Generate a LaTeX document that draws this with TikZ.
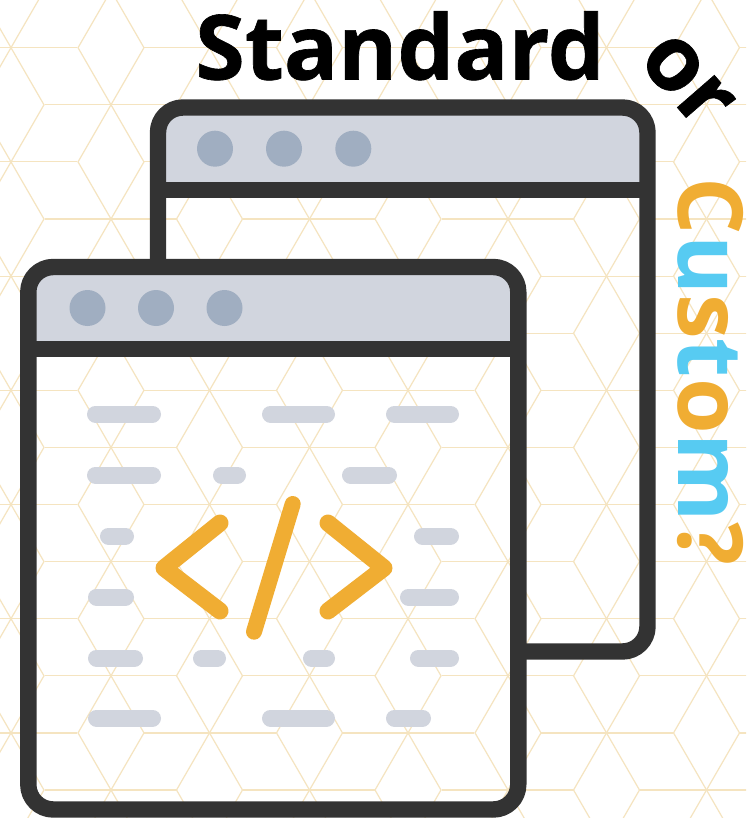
\documentclass[tikz,border=0pt]{standalone}
\usepackage{fontspec}
\setmainfont{Open Sans}
\newfontfamily\heavyfont{Open Sans}[UprightFont=* Bold,FakeBold=0.7]
\newfontfamily\customfont{Open Sans}[UprightFont=* Bold]
\definecolor{hexline}{HTML}{F5E4C0}
\definecolor{framedark}{HTML}{333333}
\definecolor{bargray}{HTML}{D1D5DE}
\definecolor{dotblue}{HTML}{A0AEC1}
\definecolor{codeorange}{HTML}{F0AD33}
\definecolor{skyblue}{HTML}{57CBF2}
\tikzset{
  px/.style={x=1pt,y=-1pt},
  hexedge/.style={draw=hexline,line width=1.2pt},
  frame/.style={draw=framedark,line width=16.4pt,line join=round},
  dashbar/.style={draw=bargray,line width=17pt,line cap=round},
  codestroke/.style={draw=codeorange,line width=17pt,line cap=round,line join=round},
  headdot/.style={circle,fill=dotblue,draw=none,minimum size=36pt,inner sep=0pt},
  heavytext/.style={inner sep=0pt,font=\heavyfont\fontsize{90}{90}\selectfont},
  customtext/.style={inner sep=0pt,font=\customfont\fontsize{90}{90}\selectfont}
}
\begin{document}
\begin{tikzpicture}[px]
\useasboundingbox (0,0) rectangle (746,818);
\fill[white] (0,0) rectangle (746,818);
\begin{scope}
\clip (0,0) rectangle (746,818);
% rhombille tiling
\foreach \k in {-1,...,14}{
  \pgfmathsetmacro{\yc}{47.7+57.1*\k}
  \pgfmathtruncatemacro{\odd}{mod(\k+2,2)}
  \pgfmathsetmacro{\xs}{\odd==1 ? 111 : 11}
  \foreach \m in {-1,...,4}{
    \pgfmathsetmacro{\xc}{\xs+198.5*\m}
    \foreach \a in {0,60,...,300}{
      \draw[hexedge] (\xc,\yc) -- ++({66.2*cos(\a)},{66.2*sin(\a)});
    }
  }
}
\end{scope}
% back window
\fill[bargray,rounded corners=25pt] (158,190) -- (158,107.5) -- (647.5,107.5) -- (647.5,190) -- cycle;
\draw[frame,rounded corners=25pt] (158,267) -- (158,107.5) -- (647.5,107.5) -- (647.5,651.5) -- (518,651.5);
\draw[frame] (158,190) -- (647.5,190);
\node[headdot] (b1) at (215,148.7) {};
\node[headdot] (b2) at (284,148.7) {};
\node[headdot] (b3) at (353.3,148.7) {};
% front window
\fill[bargray,rounded corners=25pt] (28.3,349) -- (28.3,267) -- (518.3,267) -- (518.3,349) -- cycle;
\draw[frame,rounded corners=25pt] (28.3,267) rectangle (518.3,809.5);
\draw[frame] (28.3,349) -- (518.3,349);
\node[headdot] (f1) at (87.5,308) {};
\node[headdot] (f2) at (156,308) {};
\node[headdot] (f3) at (224.5,308) {};
% dashes
\foreach \y/\a/\b in {414/87/161,414/262/335,414/386/459,
  475/87/161,475/213/246,475/342/397,
  536/100/134,536/414/459,
  597/88/134,597/400/459,
  658/88/143,658/193/226,658/303/335,658/410/459,
  718/88/161,718/262/335,718/386/431}{
  \draw[dashbar] (\a+8.5,\y) -- (\b-8.5,\y);
}
% code symbol
\draw[codestroke] (220,523) -- (164,568) -- (220,611);
\draw[codestroke,line width=16pt] (292.7,504) -- (254,631.7);
\draw[codestroke] (328,523) -- (384,568) -- (328,611);
% title
\node[heavytext,anchor=base west] (std) at (195,79.5) {Standard};
\node[heavytext,anchor=base west,rotate=-49] (orw) at (636,60) {or};
\node[customtext,anchor=base west,rotate=-90] (cst) at (678,177.5) {\textcolor{codeorange}{C}\textcolor{skyblue}{u}\textcolor{codeorange}{s}\textcolor{skyblue}{t}\textcolor{codeorange}{o}\textcolor{skyblue}{m}\textcolor{codeorange}{?}};
\end{tikzpicture}
\end{document}
